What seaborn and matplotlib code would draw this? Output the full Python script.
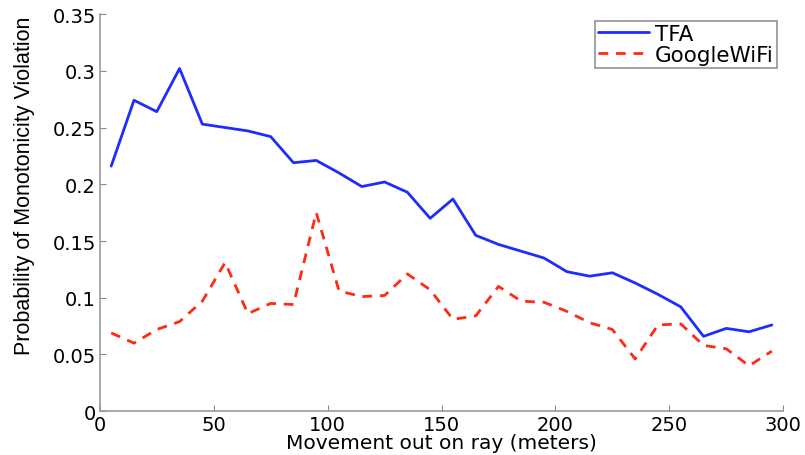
import numpy as np
import pandas as pd
import matplotlib
matplotlib.use('Agg')
import matplotlib.pyplot as plt
import seaborn as sns

# Movement out on ray (meters), bin centres
distance = [5, 15, 25, 35, 45, 55, 65, 75, 85, 95,
            105, 115, 125, 135, 145, 155, 165, 175, 185, 195,
            205, 215, 225, 235, 245, 255, 265, 275, 285, 295]

tfa = [0.216, 0.274, 0.264, 0.302, 0.253, 0.250, 0.247, 0.242, 0.219, 0.221,
       0.210, 0.198, 0.202, 0.193, 0.170, 0.187, 0.155, 0.147, 0.141, 0.135,
       0.123, 0.119, 0.122, 0.113, 0.103, 0.092, 0.066, 0.073, 0.070, 0.076]

google_wifi = [0.069, 0.060, 0.072, 0.079, 0.097, 0.131, 0.086, 0.095, 0.094, 0.175,
               0.106, 0.101, 0.102, 0.121, 0.107, 0.081, 0.084, 0.110, 0.097, 0.096,
               0.088, 0.078, 0.072, 0.046, 0.076, 0.077, 0.058, 0.055, 0.040, 0.053]

series_names = ['TFA', 'GoogleWiFi']

df = pd.DataFrame({
    'distance': distance * 2,
    'prob': tfa + google_wifi,
    'method': [series_names[0]] * len(distance) + [series_names[1]] * len(distance),
})

sns.set_style('white')
plt.rcParams['font.family'] = ['DejaVu Sans']
plt.rcParams['text.color'] = 'black'
plt.rcParams['axes.labelcolor'] = 'black'

fig = plt.figure(figsize=(8.05, 4.56), dpi=100)
ax = fig.add_axes([0.124, 0.096, 0.849, 0.871])

sns.lineplot(data=df, x='distance', y='prob', hue='method', style='method',
             palette={'TFA': '#1f2bff', 'GoogleWiFi': '#ff2a12'},
             dashes={'TFA': '', 'GoogleWiFi': (3.5, 2.8)},
             linewidth=2.0, ax=ax)

ax.set_xlim(0, 300)
ax.set_ylim(0, 0.35)
ax.set_xticks([0, 50, 100, 150, 200, 250, 300])
ax.set_yticks([0, 0.05, 0.1, 0.15, 0.2, 0.25, 0.3, 0.35])
ax.set_yticklabels(['0', '0.05', '0.1', '0.15', '0.2', '0.25', '0.3', '0.35'])
ax.tick_params(direction='in', length=4, labelsize=14, colors='#888888',
               labelcolor='black', left=True, bottom=True, pad=3)

ax.set_xlabel('Movement out on ray (meters)', fontsize=14.5, labelpad=-1)
ax.set_ylabel('Probability of Monotonicity Violation', fontsize=15.5,
              family=['Liberation Sans'])
ax.yaxis.set_label_coords(-0.095, 0.57)

sns.despine(ax=ax)
for side in ['left', 'bottom']:
    ax.spines[side].set_color('#999999')
    ax.spines[side].set_linewidth(1.2)

leg = ax.legend(loc='upper right', fontsize=15.5, frameon=True, fancybox=False,
                borderpad=0.15, handlelength=2.4, handletextpad=0.25,
                labelspacing=0.05, borderaxespad=0.3)
leg.get_frame().set_edgecolor('#777777')
leg.get_frame().set_linewidth(1.2)
for text in leg.get_texts():
    text.set_color('black')

fig.savefig('out.png', dpi=100)
